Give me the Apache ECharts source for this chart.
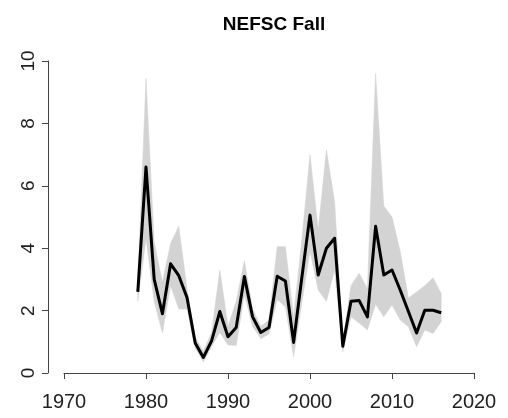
<!DOCTYPE html>
<html>
<head>
<meta charset="utf-8">
<script src="https://cdn.jsdelivr.net/npm/echarts@6/dist/echarts.min.js"></script>
<style>html,body{margin:0;padding:0;background:#fff;}#c{width:508px;height:418px;}</style>
</head>
<body>
<div id="c"></div>
<script>
var years = [1979,1980,1981,1982,1983,1984,1985,1986,1987,1988,1989,1990,1991,1992,1993,1994,1995,1996,1997,1998,1999,2000,2001,2002,2003,2004,2005,2006,2007,2008,2009,2010,2011,2012,2013,2014,2015,2016];
var meanVals = [2.6,6.6,3.0,1.9,3.5,3.12,2.42,0.96,0.5,1.03,1.97,1.16,1.46,3.09,1.8,1.3,1.46,3.1,2.95,0.98,3.05,5.06,3.14,4.0,4.32,0.86,2.3,2.32,1.8,4.7,3.14,3.3,2.66,1.97,1.28,2.01,2.01,1.93];
var upperVals = [2.9,9.45,4.2,2.9,4.16,4.7,2.7,1.15,0.7,1.3,3.3,1.5,2.3,3.6,2.05,1.5,1.7,4.05,4.05,1.8,4.26,7.0,4.58,7.15,5.5,1.05,2.8,3.2,2.7,9.6,5.35,5.0,3.9,2.4,2.6,2.8,3.05,2.55];
var lowerVals = [2.3,4.3,2.3,1.28,2.8,2.05,2.05,0.8,0.35,0.85,1.3,0.9,0.88,2.5,1.5,1.1,1.25,2.35,2.12,0.52,2.24,3.9,2.66,2.3,3.3,0.68,1.8,1.6,1.38,2.2,1.8,2.18,1.7,1.48,0.84,1.38,1.27,1.64];
var xTicks = [1970,1980,1990,2000,2010,2020];
var yTicks = [0,2,4,6,8,10];

var bandData = years.map(function(y,i){return [y, lowerVals[i], upperVals[i]];});
var meanData = years.map(function(y,i){return [y, meanVals[i]];});

function renderBand(params, api){
  if (params.dataIndex !== 0) return null;
  var pts = [];
  for (var i = 0; i < years.length; i++) pts.push(api.coord([years[i], upperVals[i]]));
  for (var j = years.length - 1; j >= 0; j--) pts.push(api.coord([years[j], lowerVals[j]]));
  return {type:'polygon', shape:{points:pts}, style:{fill:'#d3d3d3', stroke:'#d3d3d3', lineWidth:0.5}};
}

var labelFont = 'Liberation Sans, Arial, sans-serif';
var chart = echarts.init(document.getElementById('c'), null, {renderer:'canvas'});
chart.setOption({
  animation:false,
  backgroundColor:'#fff',
  title:{text:'NEFSC Fall', left:269, top:10, textAlign:'center',
    textStyle:{fontFamily:labelFont, fontWeight:'bold', fontSize:19, color:'#000'}},
  grid:{left:64, right:34, top:61, bottom:45},
  xAxis:{type:'value', min:xTicks[0], max:xTicks[xTicks.length-1], interval:10, offset:14,
    axisLine:{show:true, lineStyle:{color:'#444', width:1}},
    axisTick:{show:true, length:6, lineStyle:{color:'#444'}},
    splitLine:{show:false},
    axisLabel:{fontFamily:labelFont, fontSize:20, color:'#222', margin:5,
      formatter:function(v){return String(v);}}},
  yAxis:{type:'value', min:yTicks[0], max:yTicks[yTicks.length-1], interval:2, offset:16,
    axisLine:{show:true, lineStyle:{color:'#444', width:1}},
    axisTick:{show:true, length:6, lineStyle:{color:'#444'}},
    splitLine:{show:false},
    axisLabel:{fontFamily:labelFont, fontSize:19, color:'#222', rotate:90, margin:10,
      formatter:function(v){return String(v);}}},
  series:[
    {type:'custom', data:bandData, renderItem:renderBand, silent:true, z:1,
     encode:{x:0, y:[1,2]}},
    {type:'line', data:meanData, showSymbol:false, z:5,
     lineStyle:{color:'#000', width:3, join:'round'}}
  ]
});
</script>
</body>
</html>
